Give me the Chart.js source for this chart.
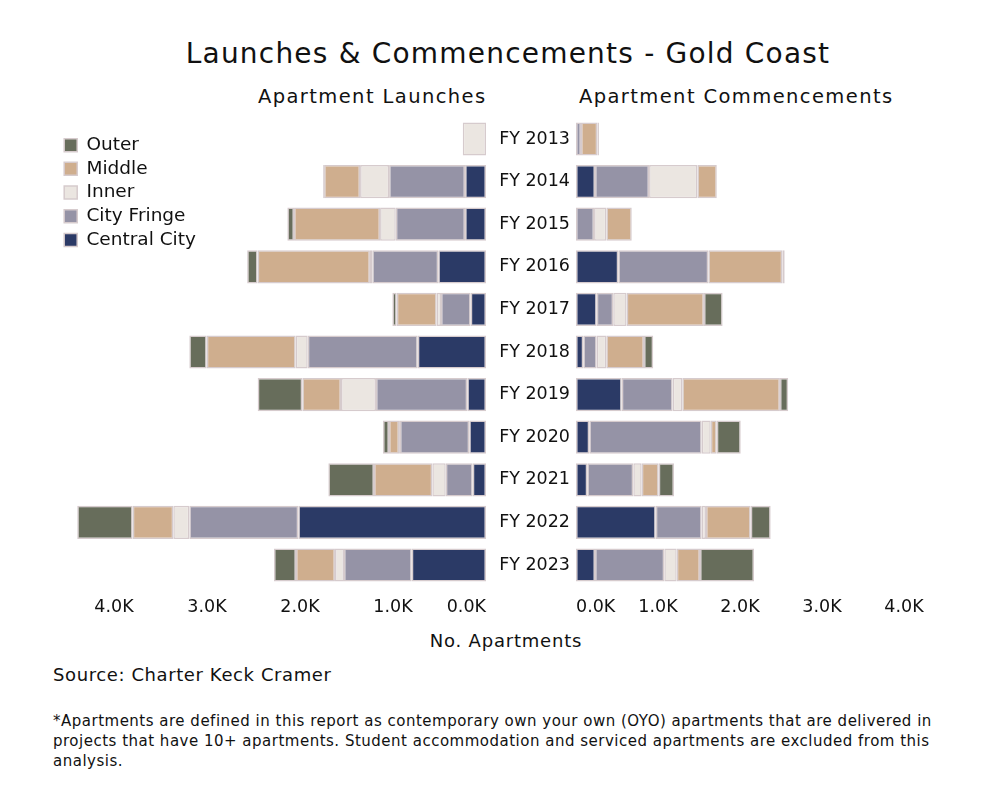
<!DOCTYPE html>
<html>
<head>
<meta charset="utf-8">
<script src="https://cdn.jsdelivr.net/npm/chart.js@4.4.0/dist/chart.umd.min.js"></script>
<style>
  html, body { margin: 0; padding: 0; background: #fff; }
  #wrap { position: relative; width: 996px; height: 788px; overflow: hidden; font-family: "DejaVu Sans", sans-serif; color: #111; }
  .t { position: absolute; line-height: 1; white-space: nowrap; }
  canvas { position: absolute; top: 0; }
</style>
</head>
<body>
<div id="wrap">
  <div class="t" style="top:40px;left:0;width:1016px;text-align:center;font-size:28px;letter-spacing:1.2px;">Launches &amp; Commencements - Gold Coast</div>
  <div class="t" style="top:87px;left:258px;font-size:19.5px;letter-spacing:1.4px;">Apartment Launches</div>
  <div class="t" style="top:87px;left:579px;font-size:19.5px;letter-spacing:1.4px;">Apartment Commencements</div>
  <div class="t" style="top:632px;left:0;width:1012px;text-align:center;font-size:18px;letter-spacing:0.8px;">No. Apartments</div>
  <div class="t" style="top:666px;left:53px;font-size:18px;letter-spacing:0.6px;">Source: Charter Keck Cramer</div>
  <div class="t" style="top:711px;left:53px;font-size:15px;letter-spacing:0.5px;line-height:20px;">*Apartments are defined in this report as contemporary own your own (OYO) apartments that are delivered in<br>projects that have 10+ apartments. Student accommodation and serviced apartments are excluded from this<br>analysis.</div>
  <div style="position:absolute;left:0;top:0;width:496px;height:650px;"><canvas id="launches"></canvas></div>
  <div style="position:absolute;left:496px;top:0;width:500px;height:650px;"><canvas id="commence"></canvas></div>
</div>
<script>
// categories and values
const years = ['FY 2013', 'FY 2014', 'FY 2015', 'FY 2016', 'FY 2017', 'FY 2018',
               'FY 2019', 'FY 2020', 'FY 2021', 'FY 2022', 'FY 2023'];

const launchCentral = [0, 225, 225, 513, 165, 734, 201, 180, 143, 2018, 799];
const launchFringe  = [0, 817, 745, 710, 319, 1183, 982, 745, 290, 1172, 728];
const launchInner   = [250, 312, 169, 25, 46, 129, 376, 10, 144, 172, 97];
const launchMiddle  = [0, 387, 925, 1208, 430, 957, 416, 108, 627, 437, 419];
const launchOuter   = [0, 10, 72, 112, 47, 187, 480, 65, 491, 596, 237];

const commCentral = [0, 232, 0, 516, 252, 89, 557, 162, 138, 972, 232];
const commFringe  = [61, 659, 220, 1098, 202, 163, 622, 1371, 561, 561, 845];
const commInner   = [0, 589, 150, 0, 163, 117, 117, 110, 102, 52, 151];
const commMiddle  = [199, 237, 310, 902, 943, 460, 1191, 73, 207, 545, 284];
const commOuter   = [20, 0, 0, 29, 228, 113, 101, 293, 187, 244, 659];

const tickValues = [0, 1000, 2000, 3000, 4000];
const tickText = ['0.0K', '1.0K', '2.0K', '3.0K', '4.0K'];

const seriesNames = ['Central City', 'City Fringe', 'Inner', 'Middle', 'Outer'];
const seriesColors = ['#2b3a66', '#9593a6', '#ebe6e1', '#cfae8e', '#676d5b'];

const FONT = '"DejaVu Sans", sans-serif';

function makeDatasets(arrays) {
    return arrays.map((data, i) => ({
        label: seriesNames[i],
        data: data,
        backgroundColor: seriesColors[i],
        borderColor: '#d6cbcd',
        borderWidth: 1.5,
        borderSkipped: false,
        barPercentage: 0.78,
        categoryPercentage: 1
    }));
}

// x tick labels, kept inside the plot area like the original
const tickLabels = {
    id: 'tickLabels',
    afterDraw(chart) {
        const { ctx, chartArea, scales } = chart;
        ctx.save();
        ctx.font = '17.5px ' + FONT;
        ctx.fillStyle = '#111';
        ctx.textAlign = 'center';
        ctx.textBaseline = 'middle';
        tickValues.forEach((v, i) => {
            const w = ctx.measureText(tickText[i]).width;
            let px = scales.x.getPixelForValue(v);
            px = Math.min(Math.max(px, chartArea.left + w / 2), chartArea.right - w / 2);
            ctx.fillText(tickText[i], px, chartArea.bottom + 21);
        });
        ctx.restore();
    }
};

// put the in-area legend where the original has it
const legendShift = {
    id: 'legendShift',
    afterLayout(chart) {
        const lg = chart.legend;
        if (lg && lg.options.display) {
            const h = lg.bottom - lg.top;
            lg.top = chart.chartArea.top + 13;
            lg.bottom = lg.top + h;
        }
    }
};

const commonScales = (max, reverse) => ({
    x: {
        type: 'linear', stacked: true, min: 0, max: max, reverse: reverse,
        display: false
    },
    y: {
        stacked: true,
        grid: { display: false, drawTicks: false, tickLength: 0 },
        border: { display: false },
        ticks: { color: '#111', font: { family: FONT, size: 17.5 }, padding: 6 }
    }
});

Chart.defaults.animation = false;

const leftScales = commonScales(4591, true);
leftScales.y.display = false;

new Chart(document.getElementById('launches'), {
    type: 'bar',
    data: {
        labels: years,
        datasets: makeDatasets([launchCentral, launchFringe, launchInner, launchMiddle, launchOuter])
    },
    options: {
        indexAxis: 'y',
        responsive: true,
        maintainAspectRatio: false,
        layout: { padding: { left: 59, right: 10, top: 117.7, bottom: 63.7 } },
        scales: leftScales,
        plugins: {
            legend: {
                position: 'chartArea',
                align: 'start',
                reverse: true,
                labels: {
                    color: '#111',
                    font: { family: FONT, size: 18.5 },
                    boxWidth: 13,
                    boxHeight: 13,
                    padding: 5.2
                }
            },
            tooltip: { enabled: false }
        }
    },
    plugins: [tickLabels, legendShift]
});

const rightScales = commonScales(4317, false);
rightScales.y.afterFit = function (scale) { scale.width = 80; };

new Chart(document.getElementById('commence'), {
    type: 'bar',
    data: {
        labels: years,
        datasets: makeDatasets([commCentral, commFringe, commInner, commMiddle, commOuter])
    },
    options: {
        indexAxis: 'y',
        responsive: true,
        maintainAspectRatio: false,
        layout: { padding: { left: 0, right: 66, top: 117.7, bottom: 63.7 } },
        scales: rightScales,
        plugins: {
            legend: { display: false },
            tooltip: { enabled: false }
        }
    },
    plugins: [tickLabels]
});
</script>
</body>
</html>
